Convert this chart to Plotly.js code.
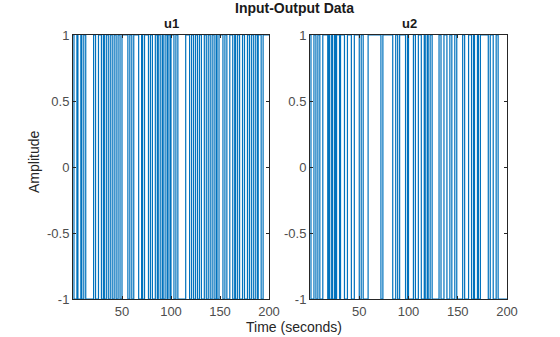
<!DOCTYPE html>
<html>
<head>
<meta charset="utf-8">
<script src="https://cdn.plot.ly/plotly-3.0.1.min.js"></script>
<style>html,body{margin:0;padding:0;background:#fff;}#chart{width:560px;height:337px;}</style>
</head>
<body>
<div id="chart"></div>
<script>
// Switch times (seconds), with start 0 and end 200
var u1Time = [0,
  1,4,5,8,9,11,13,21,23,26,
  29,31,32,34,36,38,40,42,44,46,
  48,50,56,58,60,62,67,70,71,73,
  77,79,81,84,86,87,89,91,92,94,
  96,97,99,100,103,105,107,115,119,121,
  123,125,127,129,131,134,136,138,140,142,
  144,146,147,149,153,155,157,160,163,165,
  166,168,170,173,175,178,180,182,184,186,
  188,189,192,194,
  200];
var u1Level = [
  1,-1,1,-1,1,-1,1,-1,1,-1,
  1,-1,1,-1,1,-1,1,-1,1,-1,
  1,-1,1,-1,1,-1,1,-1,1,-1,
  1,-1,1,-1,1,-1,1,-1,1,-1,
  1,-1,1,-1,1,-1,1,-1,1,-1,
  1,-1,1,-1,1,-1,1,-1,1,-1,
  1,-1,1,-1,1,-1,1,-1,1,-1,
  1,-1,1,-1,1,-1,1,-1,1,-1,
  1,-1,1,-1,1,
  1];

var u2Time = [0,
  1,4,6,8,10,13,18,19,20,22,
  23,25,26,27,30,31,35,38,42,45,
  50,52,54,59,72,74,84,87,89,91,
  97,99,100,105,107,110,113,116,117,119,
  120,122,124,131,133,136,139,142,144,147,
  149,155,157,161,164,166,167,170,171,173,
  181,183,186,189,191,
  200];
var u2Level = [
  1,-1,1,-1,1,-1,1,-1,1,-1,
  1,-1,1,-1,1,-1,1,-1,1,-1,
  1,-1,1,-1,1,-1,1,-1,1,-1,
  1,-1,1,-1,1,-1,1,-1,1,-1,
  1,-1,1,-1,1,-1,1,-1,1,-1,
  1,-1,1,-1,1,-1,1,-1,1,-1,
  1,-1,1,-1,1,-1,
  -1];

var xTicks = [50, 100, 150, 200];
var yTicks = [-1, -0.5, 0, 0.5, 1];
var yTickText = ['-1', '-0.5', '0', '0.5', '1'];
var panelTitles = ['u1', 'u2'];

var W = 560, H = 337;
var FONT = 'Liberation Sans, Arial, Helvetica, sans-serif';
var BLUE = '#0072BD';
var AX = '#262626';

var traces = [
  {x: u1Time, y: u1Level, type: 'scatter', mode: 'lines', line: {shape: 'hv', color: BLUE, width: 1.2}, xaxis: 'x', yaxis: 'y', hoverinfo: 'skip'},
  {x: u2Time, y: u2Level, type: 'scatter', mode: 'lines', line: {shape: 'hv', color: BLUE, width: 1.2}, xaxis: 'x2', yaxis: 'y2', hoverinfo: 'skip'}
];

function xa(dom) {
  return {domain: dom, range: [0, 200], tickvals: xTicks, ticktext: xTicks.map(String),
    ticks: 'inside', ticklen: 3, tickcolor: AX, showline: true, linecolor: AX, linewidth: 1,
    mirror: 'ticks', showgrid: false, zeroline: false,
    tickfont: {family: FONT, size: 13, color: '#4d4d4d'}};
}
function ya(dom, anchor) {
  return {domain: dom, range: [-1, 1], tickvals: yTicks, ticktext: yTickText, anchor: anchor,
    ticks: 'inside', ticklen: 3, tickcolor: AX, showline: true, linecolor: AX, linewidth: 1,
    mirror: 'ticks', showgrid: false, zeroline: false,
    tickfont: {family: FONT, size: 13, color: '#4d4d4d'}};
}
var yDom = [1 - 299 / H, 1 - 35 / H];

var layout = {
  width: W, height: H,
  margin: {l: 0, r: 0, t: 0, b: 0},
  paper_bgcolor: '#fff', plot_bgcolor: '#fff',
  showlegend: false,
  xaxis: Object.assign(xa([73 / W, 269 / W]), {anchor: 'y'}),
  yaxis: ya(yDom, 'x'),
  xaxis2: Object.assign(xa([310 / W, 507 / W]), {anchor: 'y2'}),
  yaxis2: ya(yDom, 'x2'),
  annotations: [
    {text: '<b>Input-Output Data</b>', xref: 'paper', yref: 'paper', x: 294 / W, y: 1 - 8 / H,
     xanchor: 'center', yanchor: 'middle', showarrow: false, font: {family: FONT, size: 14, color: '#1a1a1a'}},
    {text: '<b>' + panelTitles[0] + '</b>', xref: 'paper', yref: 'paper', x: 171 / W, y: 1 - 23 / H,
     xanchor: 'center', yanchor: 'middle', showarrow: false, font: {family: FONT, size: 13, color: '#1a1a1a'}},
    {text: '<b>' + panelTitles[1] + '</b>', xref: 'paper', yref: 'paper', x: 409 / W, y: 1 - 23 / H,
     xanchor: 'center', yanchor: 'middle', showarrow: false, font: {family: FONT, size: 13, color: '#1a1a1a'}},
    {text: 'Amplitude', xref: 'paper', yref: 'paper', x: 34 / W, y: 1 - 162 / H, textangle: -90,
     xanchor: 'center', yanchor: 'middle', showarrow: false, font: {family: FONT, size: 14, color: '#262626'}},
    {text: 'Time (seconds)', xref: 'paper', yref: 'paper', x: 294 / W, y: 1 - 327 / H,
     xanchor: 'center', yanchor: 'middle', showarrow: false, font: {family: FONT, size: 14, color: '#262626'}}
  ]
};

Plotly.newPlot('chart', traces, layout, {staticPlot: true, displayModeBar: false});
</script>
</body>
</html>
